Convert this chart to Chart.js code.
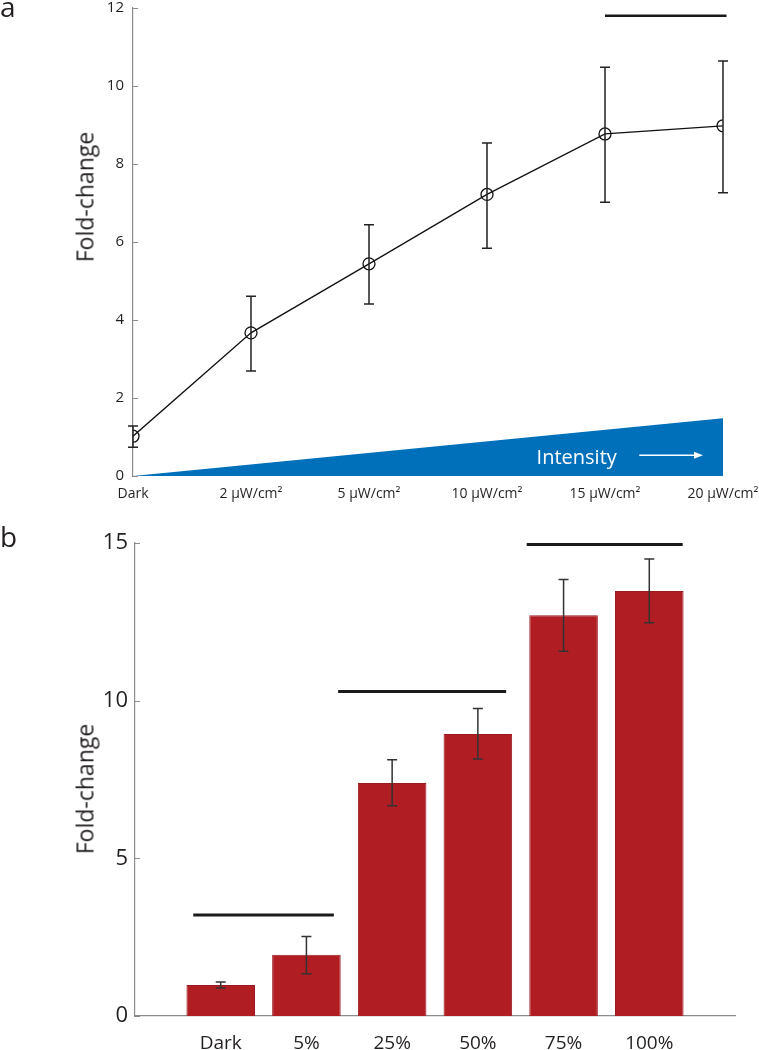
<!DOCTYPE html>
<html>
<head>
<meta charset="utf-8">
<script src="https://cdn.jsdelivr.net/npm/chart.js@4.4.1/dist/chart.umd.min.js"></script>
<style>
  body { margin: 0; background: #fff; }
  #page { position: relative; width: 759px; height: 1050px; overflow: hidden; font-family: 'Open Sans', sans-serif; color: #231f20; }
  .box { position: absolute; left: 0; width: 759px; }
  .panel { position: absolute; font-size: 28px; line-height: 1; }
  .ytitle { position: absolute; font-size: 23px; line-height: 1; white-space: nowrap; transform: translate(-50%, -50%) rotate(-90deg); }
</style>
</head>
<body>
<div id="page">
  <div class="box" style="top:0;height:505px"><canvas id="lineChart"></canvas></div>
  <div class="box" style="top:505px;height:545px"><canvas id="barChart"></canvas></div>
  <div class="panel" style="left:0;top:-8px">a</div>
  <div class="panel" style="left:0;top:522px">b</div>
  <div class="ytitle" style="left:85px;top:197px">Fold-change</div>
  <div class="ytitle" style="left:85px;top:789px">Fold-change</div>
</div>
<script>
// panel a: fold-change vs light intensity
const doseLabels = ['Dark', '2 µW/cm²', '5 µW/cm²', '10 µW/cm²', '15 µW/cm²', '20 µW/cm²'];
const doseMean = [1.02, 3.67, 5.44, 7.22, 8.77, 8.98];
const doseLow = [0.74, 2.69, 4.41, 5.84, 7.02, 7.26];
const doseHigh = [1.28, 4.61, 6.44, 8.54, 10.48, 10.64];
const wedgeHeight = [0, 1.48];          // blue intensity wedge, at Dark and at 20 µW/cm²
const doseSig = [[4.0, 5.03, 11.8]];    // [x from, x to, y]

// panel b: fold-change vs duty cycle
const barLabels = ['Dark', '5%', '25%', '50%', '75%', '100%'];
const barMean = [0.98, 1.94, 7.39, 8.94, 12.71, 13.48];
const barLow = [0.89, 1.34, 6.67, 8.15, 11.57, 12.47];
const barHigh = [1.08, 2.52, 8.13, 9.75, 13.84, 14.49];
const barSig = [[0.68, 2.32, 3.2], [2.37, 4.33, 10.29], [4.57, 6.39, 14.95]];

Chart.defaults.font.family = "'Open Sans', sans-serif";
Chart.defaults.color = '#231f20';
Chart.defaults.animation = false;

const AXIS_GREY = '#8c8c8c';

function errorBars(xs, lows, highs, color) {
  return {
    id: 'errorBars',
    afterDatasetsDraw(chart) {
      const c = chart.ctx, xS = chart.scales.x, yS = chart.scales.y;
      c.save();
      c.strokeStyle = color;
      c.lineWidth = 1.5;
      xs.forEach((xv, i) => {
        const x = xS.getPixelForValue(xv);
        const yl = yS.getPixelForValue(lows[i]);
        const yh = yS.getPixelForValue(highs[i]);
        c.beginPath();
        c.moveTo(x, yl); c.lineTo(x, yh);
        c.moveTo(x - 5, yl); c.lineTo(x + 5, yl);
        c.moveTo(x - 5, yh); c.lineTo(x + 5, yh);
        c.stroke();
      });
      c.restore();
    }
  };
}

// little ticks pointing into the plot, as in the original figure
const inwardTicks = {
  id: 'inwardTicks',
  afterDraw(chart) {
    const c = chart.ctx, yS = chart.scales.y;
    c.save();
    c.strokeStyle = AXIS_GREY;
    c.lineWidth = 1;
    yS.ticks.forEach(t => {
      const y = Math.round(yS.getPixelForValue(t.value)) + 0.5;
      c.beginPath();
      c.moveTo(yS.right, y);
      c.lineTo(yS.right + 5, y);
      c.stroke();
    });
    c.restore();
  }
};

const intensityNote = {
  id: 'intensityNote',
  afterDatasetsDraw(chart) {
    const c = chart.ctx, xS = chart.scales.x, yS = chart.scales.y;
    c.save();
    c.fillStyle = '#fff';
    c.strokeStyle = '#fff';
    c.font = "20px 'Open Sans', sans-serif";
    c.textAlign = 'center';
    c.textBaseline = 'middle';
    c.fillText('Intensity', xS.getPixelForValue(3.76), yS.getPixelForValue(0.46));
    const x1 = xS.getPixelForValue(4.29), x2 = xS.getPixelForValue(4.83);
    const ya = yS.getPixelForValue(0.53);
    c.lineWidth = 1.5;
    c.beginPath();
    c.moveTo(x1, ya); c.lineTo(x2 - 6, ya);
    c.stroke();
    c.beginPath();
    c.moveTo(x2, ya); c.lineTo(x2 - 9, ya - 3.5); c.lineTo(x2 - 9, ya + 3.5);
    c.closePath();
    c.fill();
    c.restore();
  }
};

function fixYAxis(width) {
  return function (scale) {
    scale.width = width;
    scale.paddingTop = 0;
    scale.paddingBottom = 0;
  };
}
function fixXAxis(height) {
  return function (scale) {
    scale.height = height;
    scale.paddingLeft = 0;
    scale.paddingRight = 0;
  };
}

function sigDatasets(list, width) {
  return list.map(s => ({
    type: 'line',
    data: [{ x: s[0], y: s[2] }, { x: s[1], y: s[2] }],
    borderColor: '#1a1a1a',
    borderWidth: width,
    pointRadius: 0,
    clip: false,
    order: 0
  }));
}

new Chart(document.getElementById('lineChart'), {
  type: 'line',
  data: {
    datasets: [{
      label: 'Fold-change',
      data: doseMean.map((v, i) => ({ x: i, y: v })),
      borderColor: '#111',
      borderWidth: 1.3,
      pointRadius: 6,
      pointHoverRadius: 6,
      pointBackgroundColor: 'rgba(0,0,0,0)',
      pointBorderColor: '#111',
      pointBorderWidth: 1.3,
      order: 1
    }, {
      label: 'Intensity',
      data: wedgeHeight.map((v, i) => ({ x: i * (doseLabels.length - 1), y: v })),
      fill: 'origin',
      backgroundColor: '#0070ba',
      borderWidth: 0,
      pointRadius: 0,
      order: 5
    }, ...sigDatasets(doseSig, 2.5)]
  },
  options: {
    responsive: true,
    maintainAspectRatio: false,
    layout: { padding: { left: 0, right: 36, top: 8, bottom: 0 } },
    plugins: { legend: { display: false }, tooltip: { enabled: false } },
    scales: {
      x: {
        type: 'linear',
        min: 0,
        max: doseLabels.length - 1,
        grid: { display: false, drawTicks: false },
        border: { display: false },
        ticks: {
          stepSize: 1,
          autoSkip: false,
          maxRotation: 0,
          padding: 10,
          font: { size: 14 },
          callback: v => doseLabels[v]
        },
        afterFit: fixXAxis(29)
      },
      y: {
        min: 0,
        max: 12,
        grid: { display: false, drawTicks: false },
        border: { color: AXIS_GREY, width: 1.2 },
        ticks: { stepSize: 2, padding: 9, font: { size: 15 } },
        afterFit: fixYAxis(133)
      }
    }
  },
  plugins: [errorBars(doseMean.map((v, i) => i), doseLow, doseHigh, '#222'), inwardTicks, intensityNote]
});

new Chart(document.getElementById('barChart'), {
  type: 'bar',
  data: {
    datasets: [{
      label: 'Fold-change',
      data: barMean.map((v, i) => ({ x: i + 1, y: v })),
      backgroundColor: '#b01e24',
      borderColor: '#9a1a20',
      borderWidth: 1,
      categoryPercentage: 1,
      barPercentage: 0.8,
      order: 2
    }, ...sigDatasets(barSig, 3)]
  },
  options: {
    responsive: true,
    maintainAspectRatio: false,
    layout: { padding: { left: 0, right: 24, top: 38, bottom: 0 } },
    plugins: { legend: { display: false }, tooltip: { enabled: false } },
    scales: {
      x: {
        type: 'linear',
        offset: false,
        min: 0,
        max: barLabels.length + 1,
        grid: { display: false, drawTicks: false },
        border: { color: AXIS_GREY, width: 1.2 },
        ticks: {
          stepSize: 1,
          autoSkip: false,
          maxRotation: 0,
          padding: 16,
          font: { size: 19 },
          callback: v => barLabels[v - 1] || ''
        },
        afterFit: fixXAxis(34)
      },
      y: {
        min: 0,
        max: 15,
        grid: { display: false, drawTicks: false },
        border: { color: AXIS_GREY, width: 1.2 },
        ticks: { stepSize: 5, padding: 7, font: { size: 22 } },
        afterFit: fixYAxis(135)
      }
    }
  },
  plugins: [errorBars(barMean.map((v, i) => i + 1), barLow, barHigh, '#333'), inwardTicks]
});
</script>
</body>
</html>
